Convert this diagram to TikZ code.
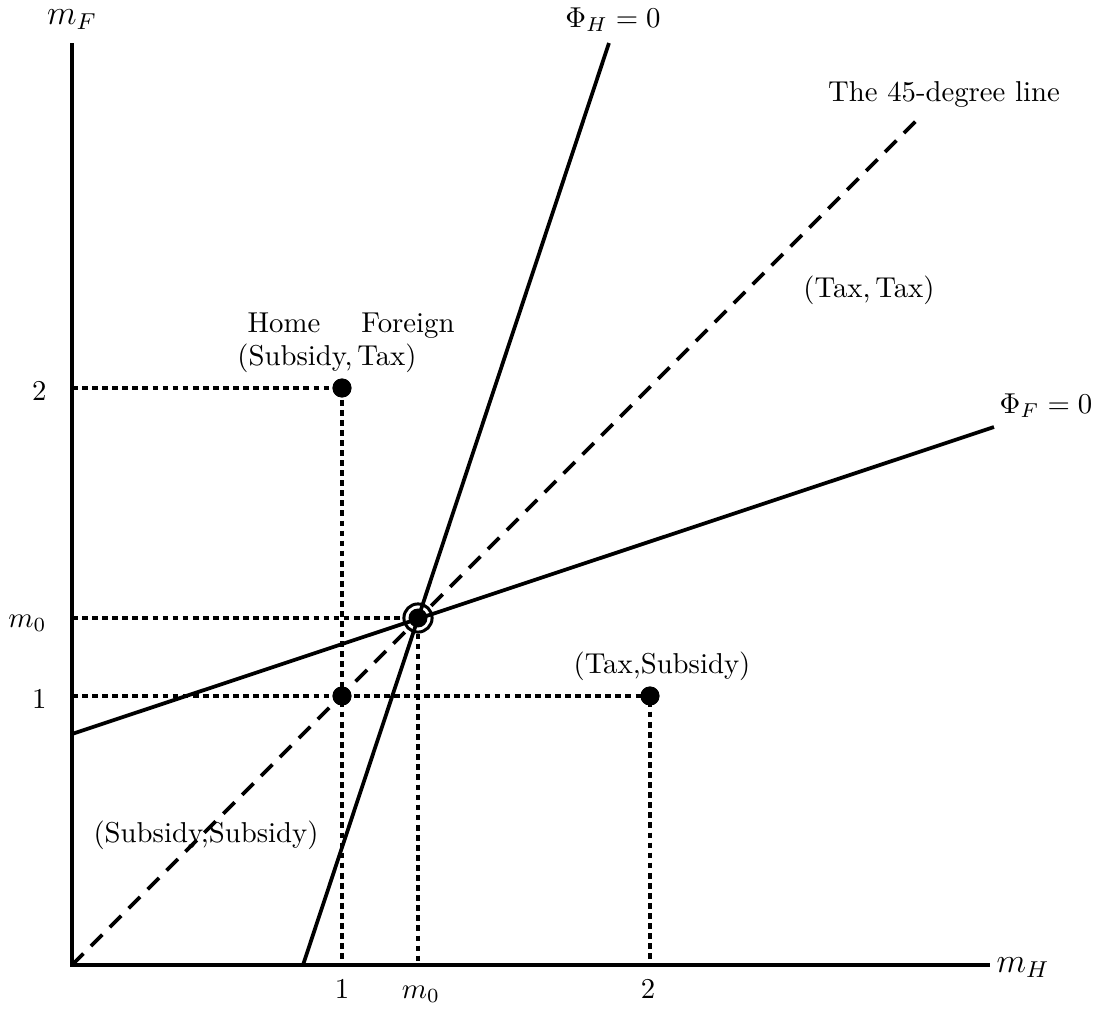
\documentclass[tikz,border=0pt]{standalone}
\begin{document}
\begin{tikzpicture}[x=0.3478pt,y=-0.3478pt,
  axis/.style={line width=1.35pt},
  curve/.style={line width=1.3pt},
  diag/.style={line width=1.3pt, dash pattern=on 5.6pt off 3.7pt},
  guide/.style={line width=1.15pt, dash pattern=on 2pt off 1.5pt},
  dot/.style={circle, fill=black, inner sep=0pt, minimum size=6.6pt},
  ring/.style={circle, draw, line width=1.05pt, inner sep=0pt, minimum size=9.8pt},
  lbl/.style={inner sep=0pt}]
\useasboundingbox (0,0) rectangle (1111,1016);
% axis coordinates
\coordinate (O) at (72,965);
\coordinate (ytop) at (72,43);
\coordinate (xend) at (990,965);
\coordinate (y2) at (72,388);
\coordinate (y1) at (72,696);
\coordinate (ym) at (72,618);
\coordinate (x1) at (342,965);
\coordinate (xm) at (418,965);
\coordinate (x2) at (650,965);
% curve end points
\coordinate (phH0) at (303,965);
\coordinate (phH1) at (609,43);
\coordinate (phF0) at (72,734);
\coordinate (phF1) at (994,427);
\coordinate (d1) at (917,120);
% points
\node[dot] (p12) at (342,388) {};
\node[dot] (p11) at (342,696) {};
\node[dot] (p21) at (650,696) {};
\node[dot] (eq) at (418,618) {};
\node[ring] (eqring) at (418,618) {};
% guides
\draw[guide] (y2) -- (p12.center) -- (x1);
\draw[guide] (y1) -- (p21.center) -- (x2);
\draw[guide] (ym) -- (eqring.west);
\draw[guide] (eqring.south) -- (xm);
% lines
\draw[diag] (O) -- (d1);
\draw[curve] (phH0) -- (phH1);
\draw[curve] (phF0) -- (phF1);
\draw[axis] (ytop) -- (O) -- (xend);
% redraw dots on top
\node[dot] at (p12) {};
\node[dot] at (p11) {};
\node[dot] at (p21) {};
% labels
\node[lbl, anchor=base] (lmF) at (72,24) {\large $m_F$};
\node[lbl, anchor=base west] (lmH) at (996,972) {\large $m_H$};
\node[lbl, anchor=base] (lPhH) at (613,27) {$\Phi_H=0$};
\node[lbl, anchor=base] (lPhF) at (1046,413) {$\Phi_F=0$};
\node[lbl, anchor=base] (l45) at (944,101) {The 45-degree line};
\node[lbl, anchor=base] (lTT) at (869,297) {(Tax,\,Tax)};
\node[lbl, anchor=base] (lHome) at (284,332) {Home};
\node[lbl, anchor=base] (lForeign) at (408,332) {Foreign};
\node[lbl, anchor=base] (lST) at (327,365) {(Subsidy,\,Tax)};
\node[lbl, anchor=base] (lTS) at (662,673) {(Tax,Subsidy)};
\node[lbl, anchor=base] (lSS) at (206,842) {(Subsidy,Subsidy)};
\node[lbl, anchor=base east] (ly2) at (47,400) {2};
\node[lbl, anchor=base east] (ly1) at (47,708) {1};
\node[lbl, anchor=base east] (lym) at (47,627) {$m_0$};
\node[lbl, anchor=base] (lx1) at (342,998) {1};
\node[lbl, anchor=base] (lxm) at (421,998) {$m_0$};
\node[lbl, anchor=base] (lx2) at (648,998) {2};
\end{tikzpicture}
\end{document}
